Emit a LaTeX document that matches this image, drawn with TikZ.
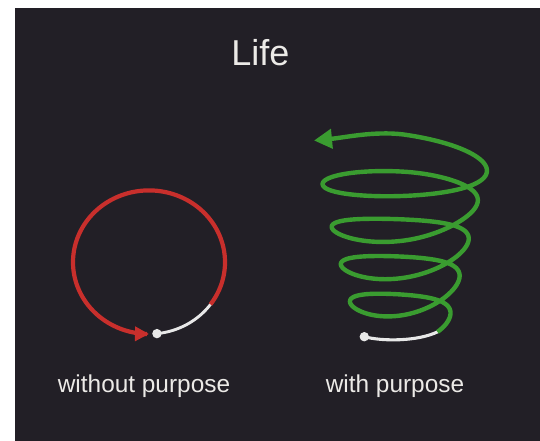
\documentclass[tikz,border=0pt]{standalone}
\usepackage{fontspec}
\setmainfont{Liberation Sans}
\usetikzlibrary{arrows.meta,calc}
\definecolor{bgdark}{RGB}{34,31,38}
\definecolor{txt}{RGB}{236,234,231}
\definecolor{redl}{RGB}{200,47,44}
\definecolor{greenl}{RGB}{58,156,48}
\definecolor{whitel}{RGB}{232,232,232}
\begin{document}
\begin{tikzpicture}[x=1pt,y=-1pt,
  declare function={
    sA(\t)=min(1,max(0,(\t-17.28)/3.1416));
    sB(\t)=min(1,max(0,(\t-18.85)/3.1416));
    sC(\t)=min(1,max(0,(\t-21.99)/3.1416));
    sm(\u)=\u*\u*(3-2*\u);
    Tf(\t)=319.2-5.93*\t;
    Of(\t)=-2.5-2.5*sm(sA(\t));
    Gf(\t)=6.5*(1-sm(sA(\t)));
    Kf(\t)=20-9.5*exp(-max(0,\t+1.5708)/1.2)+1.5*sm(sA(\t));
    Df(\t)=-3+3*sm(sB(\t))+6*sm(sC(\t));
    Xf(\t)=402.5+(48+1.45*\t)*cos(deg(\t));
    Yf(\t)=Tf(\t)+Of(\t)+Gf(\t)*sin(deg(\t))*sin(deg(\t))-Kf(\t)*sin(deg(\t))+Df(\t)*cos(deg(\t));
  },
  redline/.style={draw=redl,line width=4.2pt},
  greenline/.style={draw=greenl,line width=4.4pt},
  whiteline/.style={draw=whitel,line width=2.9pt},
  dotmark/.style={fill=whitel},
  label/.style={text=txt,font=\fontsize{24.4}{28}\selectfont,anchor=base,inner sep=0pt},
  titlelabel/.style={text=txt,font=\fontsize{36}{40}\selectfont,anchor=base,inner sep=0pt}
]
\useasboundingbox (0,0) rectangle (540,441);
\fill[white] (0,0) rectangle (540,441);
\fill[bgdark] (15,8) rectangle (540,441);

% title and labels
\node[titlelabel] (title) at (260.5,66) {Life};
\node[label] (left) at (144,392) {without purpose};
\node[label] (right) at (395,392) {with purpose};

% left: circle without purpose
\coordinate (rdot) at ({149+76*cos(84)},{262.2+71.8*sin(84)});
\draw[whiteline] plot[domain=84:35,samples=40,variable=\a] ({149+76*cos(\a)},{262.2+71.8*sin(\a)});
\draw[redline,-{Triangle[length=14pt,width=14pt]}]
  plot[domain=36:-270,samples=200,variable=\a] ({149+76*cos(\a)},{262.2+71.8*sin(\a)});
\fill[dotmark] (rdot) circle[radius=4.7pt];

% right: spiral with purpose
\coordinate (g0) at ({Xf(-0.73)},{Yf(-0.73)});
\coordinate (sdot) at (364.3,336.7);
\draw[whiteline,line width=3.1pt] (sdot) .. controls (382,341.5) and ($(g0)+(-19.4,9.7)$) .. ($(g0)+(0.6,-0.3)$);
\draw[greenline,-{Triangle[length=18pt,width=19pt]}]
  plot[domain=-0.73:26.704,samples=600,variable=\t] ({Xf(\t)},{Yf(\t)})
  .. controls (374,131) and (345,137.5) .. (314,140.5);
\fill[dotmark] (sdot) circle[radius=4.7pt];
\end{tikzpicture}
\end{document}
